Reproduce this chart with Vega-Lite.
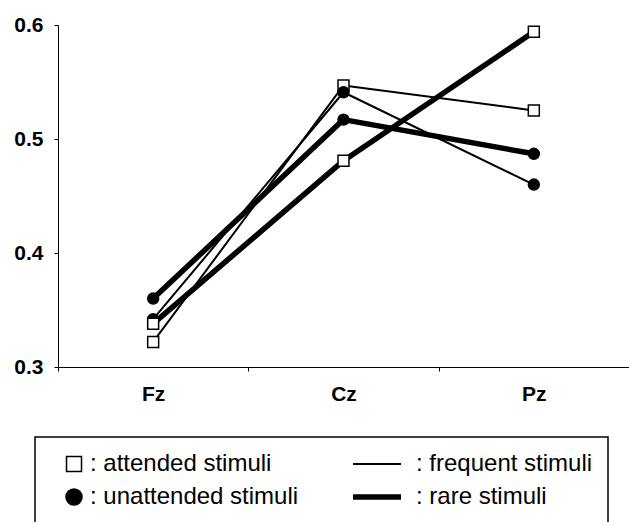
{
  "$schema": "https://vega.github.io/schema/vega-lite/v6.json",
  "width": 571,
  "height": 342,
  "autosize": "none",
  "padding": {"left": 58, "top": 25, "right": 0, "bottom": 155},
  "background": "white",
  "config": {
    "view": {"stroke": null},
    "font": "Liberation Sans",
    "axis": {
      "domainColor": "black",
      "domainWidth": 1,
      "tickColor": "black",
      "tickWidth": 1,
      "tickSize": 4,
      "labelColor": "black",
      "labelFont": "Liberation Sans",
      "labelFontWeight": "bold",
      "labelFontSize": 21,
      "grid": false,
      "title": null
    },
    "legend": {
      "title": null,
      "orient": "none",
      "legendX": -23,
      "legendY": 412,
      "columns": 2,
      "columnPadding": 43,
      "rowPadding": 9,
      "padding": 15,
      "strokeColor": "black",
      "labelFont": "Liberation Sans",
      "labelFontSize": 24,
      "labelColor": "black",
      "labelOffset": 8,
      "labelLimit": 400,
      "symbolSize": 100,
      "symbolStrokeColor": "black"
    }
  },
  "data": {
    "values": [
      {"electrode": "Fz", "attention": "attended stimuli", "frequency": "frequent stimuli", "amplitude": 0.322},
      {"electrode": "Cz", "attention": "attended stimuli", "frequency": "frequent stimuli", "amplitude": 0.547},
      {"electrode": "Pz", "attention": "attended stimuli", "frequency": "frequent stimuli", "amplitude": 0.525},
      {"electrode": "Fz", "attention": "unattended stimuli", "frequency": "frequent stimuli", "amplitude": 0.342},
      {"electrode": "Cz", "attention": "unattended stimuli", "frequency": "frequent stimuli", "amplitude": 0.541},
      {"electrode": "Pz", "attention": "unattended stimuli", "frequency": "frequent stimuli", "amplitude": 0.46},
      {"electrode": "Fz", "attention": "attended stimuli", "frequency": "rare stimuli", "amplitude": 0.338},
      {"electrode": "Cz", "attention": "attended stimuli", "frequency": "rare stimuli", "amplitude": 0.481},
      {"electrode": "Pz", "attention": "attended stimuli", "frequency": "rare stimuli", "amplitude": 0.594},
      {"electrode": "Fz", "attention": "unattended stimuli", "frequency": "rare stimuli", "amplitude": 0.36},
      {"electrode": "Cz", "attention": "unattended stimuli", "frequency": "rare stimuli", "amplitude": 0.517},
      {"electrode": "Pz", "attention": "unattended stimuli", "frequency": "rare stimuli", "amplitude": 0.487}
    ]
  },
  "encoding": {
    "x": {
      "field": "electrode",
      "type": "nominal",
      "sort": ["Fz", "Cz", "Pz"],
      "scale": {"type": "band", "paddingInner": 0, "paddingOuter": 0},
      "axis": {"labelAngle": 0, "tickBand": "extent", "labelPadding": 12}
    },
    "y": {
      "field": "amplitude",
      "type": "quantitative",
      "scale": {"domain": [0.3, 0.6], "nice": false, "zero": false},
      "axis": {"values": [0.3, 0.4, 0.5, 0.6], "format": ".1f", "labelPadding": 11}
    }
  },
  "layer": [
    {
      "mark": {"type": "line", "color": "black", "strokeCap": "round", "strokeJoin": "round"},
      "encoding": {
        "detail": {"field": "attention", "type": "nominal"},
        "strokeWidth": {
          "field": "frequency",
          "type": "nominal",
          "scale": {
            "type": "ordinal",
            "domain": ["attended stimuli", "unattended stimuli", "frequent stimuli", "rare stimuli"],
            "range": [1.5, 1.5, 2, 5.5]
          },
          "legend": {
            "labelExpr": "': ' + datum.label + (indexof(['frequent stimuli', 'rare stimuli'], datum.value) >= 0 ? '\u00a0\u00a0\u00a0\u00a0\u00a0\u00a0' : '')",
            "encode": {
              "legend": {"update": {"strokeWidth": {"value": 1.5}}},
              "symbols": {
                "update": {
                  "stroke": {"value": "black"},
                  "x": {"value": 24},
                  "y": {"value": 12},
                  "size": {"signal": "datum.value === 'attended stimuli' ? 225 : datum.value === 'unattended stimuli' ? 256 : 2304"}
                }
              },
              "labels": {
                "update": {
                  "x": {"signal": "indexof(['frequent stimuli', 'rare stimuli'], datum.value) >= 0 ? 63 : 40"},
                  "y": {"value": 12}
                }
              }
            }
          }
        }
      }
    },
    {
      "mark": {"type": "point", "filled": true, "stroke": "black", "strokeWidth": 1.5, "opacity": 1, "size": 120},
      "encoding": {
        "shape": {
          "field": "attention",
          "type": "nominal",
          "scale": {
            "domain": ["attended stimuli", "unattended stimuli", "frequent stimuli", "rare stimuli"],
            "range": ["square", "circle", "stroke", "stroke"]
          },
          "legend": {"labelExpr": "': ' + datum.label + (indexof(['frequent stimuli', 'rare stimuli'], datum.value) >= 0 ? '\u00a0\u00a0\u00a0\u00a0\u00a0\u00a0' : '')"}
        },
        "fill": {
          "field": "attention",
          "type": "nominal",
          "scale": {
            "domain": ["attended stimuli", "unattended stimuli", "frequent stimuli", "rare stimuli"],
            "range": ["white", "black", "black", "black"]
          },
          "legend": {"labelExpr": "': ' + datum.label + (indexof(['frequent stimuli', 'rare stimuli'], datum.value) >= 0 ? '\u00a0\u00a0\u00a0\u00a0\u00a0\u00a0' : '')"}
        }
      }
    }
  ]
}
